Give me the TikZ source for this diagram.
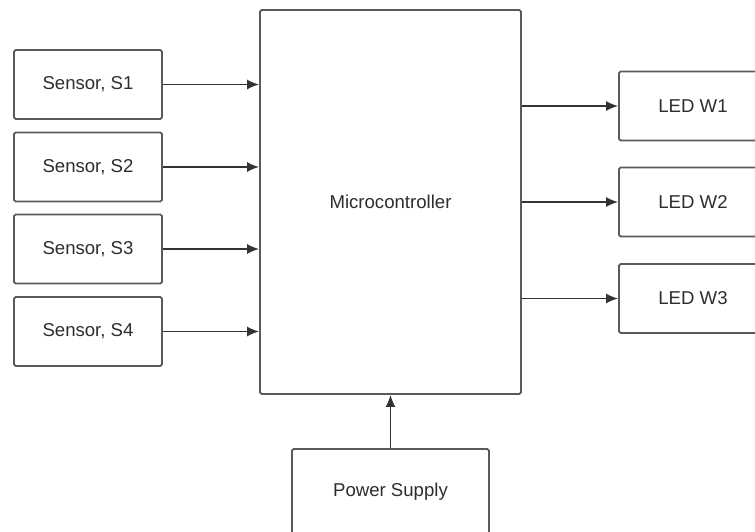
\documentclass[tikz,border=0pt]{standalone}
\usepackage{fontspec}
\setmainfont{Liberation Sans}
\usetikzlibrary{arrows.meta}
\definecolor{linegray}{HTML}{5A5A5A}
\definecolor{textgray}{HTML}{2E2E2E}
\begin{document}
\begin{tikzpicture}[x=0.5pt,y=-0.5pt,
  blk/.style={draw=linegray,line width=0.9pt,rounded corners=0.8pt,fill=white,
    inner sep=0pt,text=textgray,font=\fontsize{9.3}{11}\selectfont},
  sensorbox/.style={blk,minimum width=74pt,minimum height=34.5pt},
  ledbox/.style={blk,minimum width=74pt,minimum height=34.5pt},
  link/.style={draw=black!80,line width=0.8pt,-{Latex[length=6pt,width=5pt]}}]
  \useasboundingbox (0,0) rectangle (755,531);
  \clip (0,0) rectangle (755,531);
  \fill[white] (0,0) rectangle (755,531);

  % controller
  \node[blk,minimum width=130.5pt,minimum height=192pt] (mc) at (390.5,202) {Microcontroller};

  % inputs
  \node[sensorbox] (s1) at (88,84.5) {Sensor, S1};
  \node[sensorbox] (s2) at (88,167) {Sensor, S2};
  \node[sensorbox] (s3) at (88,249) {Sensor, S3};
  \node[sensorbox] (s4) at (88,331.5) {Sensor, S4};

  % outputs
  \node[ledbox] (w1) at (693,106) {LED W1};
  \node[ledbox] (w2) at (693,202) {LED W2};
  \node[ledbox] (w3) at (693,298.5) {LED W3};

  % supply
  \node[blk,minimum width=98.5pt,minimum height=43pt] (ps) at (390.5,492) {Power Supply};

  \draw[link] (s1.east) -- (s1.east -| mc.west);
  \draw[link] (s2.east) -- (s2.east -| mc.west);
  \draw[link] (s3.east) -- (s3.east -| mc.west);
  \draw[link] (s4.east) -- (s4.east -| mc.west);
  \draw[link] (w1.west -| mc.east) -- (w1.west);
  \draw[link] (w2.west -| mc.east) -- (w2.west);
  \draw[link] (w3.west -| mc.east) -- (w3.west);
  \draw[link] (ps.north) -- (mc.south);
\end{tikzpicture}
\end{document}
